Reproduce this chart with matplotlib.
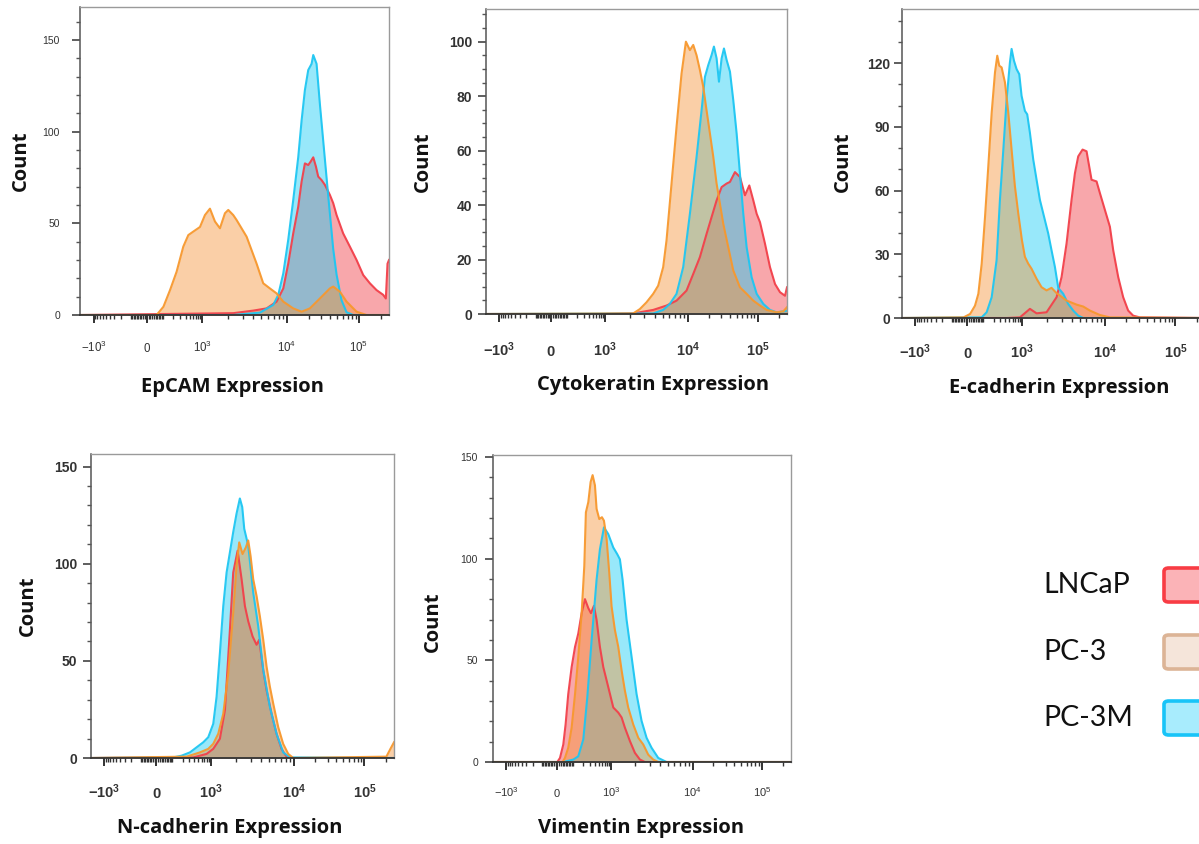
import numpy as np
import matplotlib
matplotlib.use('Agg')
import matplotlib.pyplot as plt
from matplotlib.ticker import FixedLocator, NullFormatter
from matplotlib.patches import FancyBboxPatch

plt.rcParams['mathtext.fontset'] = 'custom'
plt.rcParams['mathtext.rm'] = 'Liberation Sans'
plt.rcParams['mathtext.bf'] = 'Liberation Sans:bold'
plt.rcParams['mathtext.it'] = 'Liberation Sans:italic'

# ---------------- data (expression value, count) ----------------
SERIES = ['LNCaP', 'PC-3', 'PC-3M']
PANEL_LABELS = ['EpCAM Expression', 'Cytokeratin Expression', 'E-cadherin Expression',
                'N-cadherin Expression', 'Vimentin Expression']
X_TICKS = [-1000, 0, 1000, 10000, 100000]
X_MINOR = ([-900, -800, -700, -600, -500, -400, -300, -200, -100,
            -90, -80, -70, -60, -50, -40, -30, -20, -10,
            10, 20, 30, 40, 50, 60, 70, 80, 90,
            100, 200, 300, 400, 500, 600, 700, 800, 900,
            2000, 3000, 4000, 5000, 6000, 7000, 8000, 9000,
            20000, 30000, 40000, 50000, 60000, 70000, 80000, 90000, 200000])
X_RANGE = [-1800, 262144]

# EpCAM
EPCAM_LNCAP_X = [-1800, 2323, 4000, 5750, 7550, 9060, 10430, 12240, 14360, 15990, 17780, 19780, 21330,
                 23230, 25300, 27230, 30300, 33700, 39550, 44000, 49000, 60500, 75000, 92900, 114900,
                 142200, 175800, 217700, 237000, 250000, 262144]
EPCAM_LNCAP_Y = [0, 1, 2.4, 3.6, 7.3, 14.5, 28, 44.5, 59, 72.7, 82.7, 81.8, 83.6, 86, 81, 75.5, 73.6,
                 71, 65.5, 61, 54.5, 44.5, 37.3, 30, 21.8, 17.3, 13.6, 11, 9, 28, 30]
EPCAM_PC3_X = [-1800, 56, 103, 162, 241, 353, 467, 613, 882, 1075, 1232, 1412, 1617, 1853, 2028, 2323,
               2545, 3342, 4385, 5250, 6295, 7545, 9055, 12240, 15990, 20840, 28700, 39550, 44000,
               54500, 67400, 92900, 127700, 262144]
EPCAM_PC3_Y = [0, 0, 4.5, 13.6, 23.6, 37.3, 43.6, 45.5, 48, 54.5, 58, 51, 47.3, 55.5, 57.3, 54.5,
               51.8, 42.7, 28, 17.3, 14.5, 11.8, 7.3, 3.6, 1.8, 3.6, 9, 14.5, 15.5, 12.7, 7.3, 1.8, 0, 0]
EPCAM_PC3M_X = [-1800, 2323, 4800, 6900, 7910, 9060, 10430, 12240, 14360, 15990, 17780, 19780, 22020,
                23230, 25830, 28730, 33700, 37500, 44000, 49000, 57450, 67400, 83400, 262144]
EPCAM_PC3M_Y = [0, 0, 1.3, 5.5, 11, 22.7, 41, 62.7, 86, 106, 122.7, 133.6, 137, 141.8, 137, 115, 85,
                65, 36, 22, 8, 1.5, 0, 0]

# Cytokeratin
CK_LNCAP_X = [-1800, 745, 2188, 3828, 5555, 7350, 9720, 12050, 15000, 18670, 22030, 25950, 30620,
              36070, 40260, 47420, 55970, 65900, 76000, 86700, 96800, 108000, 127300, 150000, 177000,
              208500, 245500, 262144]
CK_LNCAP_Y = [0, 0, 0.2, 1.5, 3.1, 4.9, 8.6, 14.7, 20.9, 29.4, 35.6, 41.7, 46.6, 47.9, 48.5, 52.1,
              50.3, 43.6, 47.2, 41.7, 36.8, 33.7, 25.8, 17.2, 11, 8, 6.7, 9.8]
CK_PC3_X = [-1800, 2188, 2636, 3178, 3828, 4402, 5060, 5555, 6393, 7350, 8455, 9550, 10800, 12050,
            13450, 15000, 16750, 18670, 20850, 23280, 25950, 28970, 32330, 38110, 44900, 55900, 69660,
            86700, 108000, 134500, 186700, 232600, 262144]
CK_PC3_Y = [0, 0.2, 1.8, 4.3, 7.4, 10.4, 17.2, 27, 47.9, 68.7, 88.3, 100, 96.9, 98.8, 95, 89.6, 83.4,
            74.8, 66.3, 57.7, 47.9, 40.5, 33.1, 24.5, 16, 9.8, 7.4, 4.9, 3.1, 1.5, 0.6, 1, 2.5]
CK_PC3M_X = [-1800, 3828, 5060, 6095, 7350, 8850, 10800, 13450, 15850, 17700, 19740, 22030, 23780,
             25950, 28050, 30620, 33060, 36070, 40260, 44900, 50120, 55900, 62400, 69660, 82050, 96800,
             120500, 150000, 186700, 232600, 262144]
CK_PC3M_Y = [0, 0.2, 1.5, 3.7, 7.4, 17.2, 36.8, 57.7, 74.8, 87.1, 91.4, 95.1, 98.2, 93.9, 85.3, 93.9,
             97.5, 93.3, 89, 78.5, 66.3, 51.5, 36.8, 24.5, 13.5, 7.4, 3.7, 1.5, 0.6, 1, 1.2]

# E-cadherin
ECAD_LNCAP_X = [-1800, 427, 897, 1249, 1502, 1982, 2618, 3006, 3452, 3963, 4355, 4770, 5383, 6012,
                6905, 7935, 8710, 10000, 11770, 13120, 15440, 18160, 21380, 25180, 31280, 262144]
ECAD_LNCAP_Y = [0, 0, 0.3, 4.3, 2.2, 2.7, 9.8, 19.3, 35.1, 55.6, 68.2, 76.1, 79.3, 78.5, 65.1, 64.3,
                58.8, 50.9, 43, 31.9, 19.3, 9.8, 3.5, 1.1, 0.3, 0]
ECAD_PC3_X = [-1800, -22, 15, 43, 64, 87, 113, 142, 177, 217, 249, 280, 321, 388, 469, 564, 679, 817,
              1000, 1087, 1192, 1307, 1502, 1725, 1982, 2275, 2618, 3452, 4560, 5483, 6592, 8710,
              11780, 262144]
ECAD_PC3_Y = [0, 0.3, 1.9, 5.8, 11.4, 25.6, 47.7, 71.4, 96.7, 115.6, 123.5, 118.8, 118, 111, 96.7,
              79.3, 62, 49.3, 36.7, 28.8, 25.6, 23.2, 18.5, 14.5, 13, 14.2, 11.7, 8.2, 6.3, 5.4, 3.5,
              1.4, 0.3, 0]
ECAD_PC3M_X = [-1800, 87, 127, 177, 239, 291, 354, 427, 514, 564, 643, 744, 864, 982, 1087, 1159,
               1249, 1370, 1502, 1648, 1892, 2075, 2275, 2500, 2741, 3148, 3617, 4150, 4770, 5483,
               262144]
ECAD_PC3M_Y = [0, 0.3, 2.7, 9.8, 27.2, 55.6, 79.3, 103, 120.4, 126.7, 121.2, 117.2, 114.8, 104.6,
               97.5, 95.9, 87.2, 74.6, 65.1, 55.6, 46.1, 39.8, 31.9, 24, 14.2, 11.4, 6.6, 3.5, 1.1, 0, 0]

# N-cadherin
NCAD_LNCAP_X = [-1800, 374, 788, 1067, 1283, 1475, 1694, 1857, 2098, 2344, 2570, 2817, 3177, 3550,
                3818, 4272, 4688, 5383, 6180, 7096, 8160, 9000, 262144]
NCAD_LNCAP_Y = [0, 0.3, 2.1, 4.7, 9.9, 24.6, 66, 95.5, 106.7, 92, 78.2, 70.4, 62.6, 58.3, 60.9, 45.3,
                34.9, 22.8, 12.5, 4.7, 0.7, 0, 0]
NCAD_PC3_X = [-1800, 254, 544, 864, 1067, 1226, 1409, 1618, 1857, 2036, 2193, 2407, 2642, 2817, 3006,
              3236, 3550, 3890, 4272, 4688, 5136, 5637, 6473, 7425, 8547, 9816, 204500, 233300, 262144]
NCAD_PC3_Y = [0, 0.7, 2.9, 4.7, 7.3, 12.5, 22.8, 43.6, 74.7, 99, 111, 105, 108.5, 112, 104, 92, 83.4,
              73, 60.9, 47, 36.7, 28, 15.9, 7.3, 2.1, 0, 0.7, 4.7, 8.1]
NCAD_PC3M_X = [-1800, 107, 188, 309, 451, 655, 864, 1067, 1170, 1283, 1409, 1545, 1694, 1857, 2036,
               2233, 2385, 2522, 2817, 3236, 3718, 4272, 5136, 6175, 7425, 8944, 262144]
NCAD_PC3M_Y = [0, 0.3, 1.2, 2.9, 5.5, 8.1, 10.7, 17.6, 31.5, 54, 78.2, 95.5, 105.9, 116.3, 125.8,
               133.6, 129.2, 118, 109.3, 85.1, 67.8, 45.3, 26.3, 12.5, 2.9, 0.3, 0]

# Vimentin
VIM_LNCAP_X = [-1800, 0, 15, 34, 48, 65, 89, 116, 146, 182, 224, 274, 320, 381, 444, 537, 650, 862,
               1069, 1230, 1352, 1483, 1709, 1967, 2265, 2607, 262144]
VIM_LNCAP_Y = [0, 0, 2, 8.6, 18.5, 33.4, 46.7, 56.6, 63.2, 73.2, 80.1, 75.7, 73.2, 76.8, 69.9, 56.6,
               46.7, 36.8, 26.8, 24.3, 21.9, 16.9, 10.3, 4.5, 1.2, 0, 0]
VIM_PC3_X = [-1800, 30, 44, 65, 89, 116, 146, 182, 215, 237, 274, 314, 353, 404, 444, 518, 602, 675,
             785, 911, 1019, 1119, 1230, 1352, 1483, 1630, 1876, 2165, 2490, 2865, 3298, 3800, 262144]
VIM_PC3_Y = [0, 0, 2, 7, 16.9, 33.4, 51.7, 73.2, 96.4, 122.8, 127.8, 137.7, 141.1, 136.1, 124.5,
             119.5, 120.4, 118.7, 109.6, 93, 76.5, 64.9, 56.6, 45, 35.1, 26.8, 18.5, 11.9, 8.6, 3.6,
             1.2, 0, 0]
VIM_PC3M_X = [-1800, 34, 102, 146, 202, 258, 333, 444, 537, 675, 862, 1069, 1196, 1288, 1389, 1556,
              1792, 2062, 2375, 2734, 3147, 3800, 4804, 262144]
VIM_PC3M_Y = [0, 0, 1.2, 2.8, 11.1, 31.8, 59.9, 89.7, 104.6, 115.4, 112.1, 105.5, 102.2, 99.7, 89.7,
              69.9, 51.7, 33.4, 20.2, 11.9, 7, 2, 0, 0]

PANEL_DATA = [
    [(EPCAM_LNCAP_X, EPCAM_LNCAP_Y), (EPCAM_PC3_X, EPCAM_PC3_Y), (EPCAM_PC3M_X, EPCAM_PC3M_Y)],
    [(CK_LNCAP_X, CK_LNCAP_Y), (CK_PC3_X, CK_PC3_Y), (CK_PC3M_X, CK_PC3M_Y)],
    [(ECAD_LNCAP_X, ECAD_LNCAP_Y), (ECAD_PC3_X, ECAD_PC3_Y), (ECAD_PC3M_X, ECAD_PC3M_Y)],
    [(NCAD_LNCAP_X, NCAD_LNCAP_Y), (NCAD_PC3_X, NCAD_PC3_Y), (NCAD_PC3M_X, NCAD_PC3M_Y)],
    [(VIM_LNCAP_X, VIM_LNCAP_Y), (VIM_PC3_X, VIM_PC3_Y), (VIM_PC3M_X, VIM_PC3M_Y)],
]
Y_MAJOR = [[0, 50, 100, 150], [0, 20, 40, 60, 80, 100], [0, 30, 60, 90, 120],
           [0, 50, 100, 150], [0, 50, 100, 150]]
Y_MINOR_STEP = [10, 5, 10, 10, 10]
Y_TOP = [168, 112, 145.5, 156.5, 151]

# ---------------- biexponential-like axis ----------------
T_ANCH = [-2, -1, 0, 1, 2, 3, 4]
F_ANCH = [-0.128, 0.044, 0.216, 0.396, 0.670, 0.903, 1.136]
ASINH10 = np.arcsinh(10.0)


def fwd(x):
    x = np.asarray(x, dtype=float)
    a = np.abs(x)
    t = np.where(a <= 1000, np.arcsinh(a / 100.0) / ASINH10,
                 np.log10(np.maximum(a, 1e-12)) - 2)
    return np.interp(np.sign(x) * t, T_ANCH, F_ANCH)


def inv(f):
    f = np.asarray(f, dtype=float)
    t = np.interp(f, F_ANCH, T_ANCH)
    a = np.abs(t)
    x = np.where(a <= 1, 100.0 * np.sinh(a * ASINH10), 10 ** (np.minimum(a, 10) + 2))
    return np.sign(t) * x


# ---------------- styling ----------------
FILL = {'LNCaP': '#f03c46', 'PC-3': '#f5963c', 'PC-3M': '#1ccdf5'}
LINE = {'LNCaP': '#f2404a', 'PC-3': '#f7982e', 'PC-3M': '#1ec6f2'}
DRAW_ORDER = [0, 2, 1]  # LNCaP, PC-3M, PC-3 on top

W, H = 1199, 844
fig = plt.figure(figsize=(W / 100, H / 100), dpi=100)
fig.patch.set_facecolor('white')

# (left, right, top, bottom) in pixels
BOXES = [(80, 389, 7, 315), (486, 787, 9, 314), (902, 1205, 9, 318),
         (91, 394, 454, 758), (493, 791, 455, 762)]
BOLD = [False, True, True, True, False]
YTICK_FS = [7.5, 10, 10, 10, 7.5]
XTICK_FS = [8.3, 10.5, 10.5, 10.5, 8.0]
XPAD = [21, 24.5, 23, 23, 19.5]
YPAD = [8.6, 4.3, 3.0, 4.3, 5.0]
XLAB_POS = [(0.495, -0.234), (0.555, -0.233), (0.518, -0.227), (0.459, -0.230), (0.497, -0.215)]
YLAB_POS = [(-0.191, 0.5), (-0.209, 0.5), (-0.195, 0.506), (-0.208, 0.5), (-0.201, 0.456)]

for i in range(5):
    l, r, t, b = BOXES[i]
    ax = fig.add_axes([l / W, 1 - b / H, (r - l) / W, (b - t) / H])
    ax.set_xscale('function', functions=(fwd, inv))
    for k in DRAW_ORDER:
        xs, ys = PANEL_DATA[i][k]
        name = SERIES[k]
        ax.fill_between(xs, ys, 0, color=FILL[name], alpha=0.45, lw=0)
        ax.plot(xs, ys, color=LINE[name], lw=1.5, alpha=0.95, solid_joinstyle='round')
    ax.set_xlim(*X_RANGE)
    ax.set_ylim(0, Y_TOP[i])

    # spines
    for side in ['top', 'right']:
        ax.spines[side].set_color('#9a9a9a')
        ax.spines[side].set_linewidth(1.0)
    ax.spines['left'].set_color('#555555')
    ax.spines['bottom'].set_color('#333333')
    ax.spines['left'].set_linewidth(1.1)
    ax.spines['bottom'].set_linewidth(1.3)

    # x ticks
    ax.xaxis.set_major_locator(FixedLocator(X_TICKS))
    ax.xaxis.set_minor_locator(FixedLocator(X_MINOR))
    ax.xaxis.set_minor_formatter(NullFormatter())
    if BOLD[i]:
        xl = [r'$\mathbf{-10^{3}}$', r'$\mathbf{0}$', r'$\mathbf{10^{3}}$',
              r'$\mathbf{10^{4}}$', r'$\mathbf{10^{5}}$']
    else:
        xl = [r'$-10^{3}$', r'$0$', r'$10^{3}$', r'$10^{4}$', r'$10^{5}$']
    ax.set_xticklabels(xl)
    ax.tick_params(axis='x', which='major', direction='out', length=5.8, width=1.3,
                   color='#222222', labelsize=XTICK_FS[i], labelcolor='#333333', pad=XPAD[i])
    ax.tick_params(axis='x', which='minor', direction='out', length=3.2, width=1.0, color='#333333')
    for lab in ax.get_xticklabels():
        lab.set_verticalalignment('baseline')

    # y ticks
    ax.yaxis.set_major_locator(FixedLocator(Y_MAJOR[i]))
    step = Y_MINOR_STEP[i]
    ax.yaxis.set_minor_locator(FixedLocator(list(range(0, int(Y_TOP[i]) + 1, step))))
    ax.set_yticklabels([str(v) for v in Y_MAJOR[i]],
                       fontweight='bold' if BOLD[i] else 'normal', family='Liberation Sans')
    ax.tick_params(axis='y', which='major', direction='out', length=5.8, width=1.1,
                   color='#333333', labelsize=YTICK_FS[i], labelcolor='#333333', pad=YPAD[i])
    ax.tick_params(axis='y', which='minor', direction='out', length=3.0, width=1.0, color='#555555')

    # axis labels
    ax.set_xlabel(PANEL_LABELS[i], family='Open Sans', fontweight='bold', fontsize=14.5, color='#111111')
    ax.xaxis.set_label_coords(*XLAB_POS[i])
    ax.xaxis.label.set_verticalalignment('center')
    ax.set_ylabel('Count', family='Open Sans', fontweight='bold', fontsize=14.5, color='#111111')
    ax.yaxis.set_label_coords(*YLAB_POS[i])
    ax.yaxis.label.set_verticalalignment('center')

# ---------------- legend ----------------
LEG_Y = [585, 652, 718]
LEG_FACE = ['#fbb3b7', '#f5e5da', '#a8ecfd']
LEG_EDGE = ['#f83c44', '#dcb496', '#18c4f8']
for name, yc, fc, ec in zip(SERIES, LEG_Y, LEG_FACE, LEG_EDGE):
    fig.text(1043 / W, 1 - yc / H, name, family='Lato', fontsize=20.5, color='#111111',
             ha='left', va='center')
    p = FancyBboxPatch((1164 / W, 1 - (yc + 17) / H), 60 / W, 34 / H,
                       boxstyle='round,pad=0,rounding_size=0.004',
                       transform=fig.transFigure, facecolor=fc, edgecolor=ec, lw=2.6,
                       clip_on=False)
    fig.patches.append(p)

fig.savefig('out.png', dpi=100, facecolor='white')
